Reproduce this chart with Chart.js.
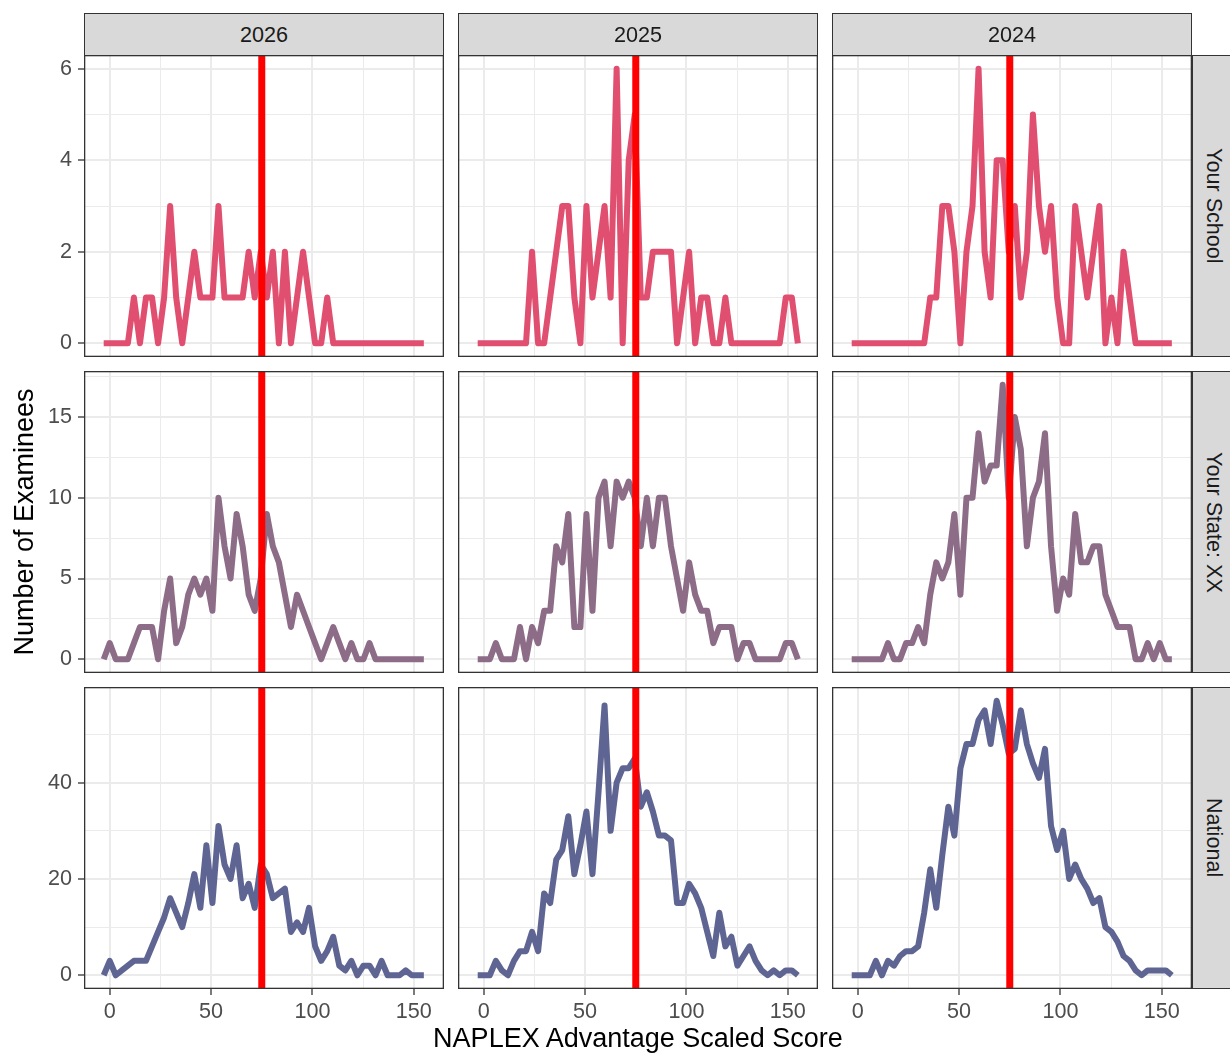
<!DOCTYPE html>
<html>
<head>
<meta charset="utf-8">
<script src="https://cdn.jsdelivr.net/npm/chart.js@4.4.1/dist/chart.umd.min.js"></script>
<style>
html, body { margin: 0; padding: 0; background: #fff; overflow: hidden; }
body { width: 1230px; height: 1053px; position: relative; font-family: "Liberation Sans", Arial, sans-serif; }
canvas { position: absolute; }
.strip { position: absolute; box-sizing: border-box; background: #d9d9d9; border: 1.3px solid #333; color: #1a1a1a; font-size: 21.6px; display: flex; align-items: center; justify-content: center; }
.strip.side { writing-mode: vertical-rl; }
#xtitle { position: absolute; left: 338px; width: 600px; top: 1022px; text-align: center; font-size: 27px; line-height: 32px; color: #000; white-space: nowrap; }
</style>
</head>
<body>
<script>
// bin centres of the frequency polygon (score axis)
const binCenters = [-2.98, 0, 2.98, 5.96, 8.94, 11.92, 14.9, 17.88, 20.86, 23.84,
  26.82, 29.8, 32.78, 35.76, 38.74, 41.72, 44.7, 47.68, 50.66, 53.64,
  56.62, 59.6, 62.58, 65.56, 68.54, 71.52, 74.5, 77.48, 80.46, 83.44,
  86.42, 89.4, 92.38, 95.36, 98.34, 101.32, 104.3, 107.28, 110.26, 113.24,
  116.22, 119.2, 122.18, 125.16, 128.14, 131.12, 134.1, 137.08, 140.06, 143.04,
  146.02, 149, 151.98, 154.96];

const years = ['2026', '2025', '2024'];
const groups = ['Your School', 'Your State: XX', 'National'];
const cutScore = 75;
const xTitle = 'NAPLEX Advantage Scaled Score';
const yTitle = 'Number of Examinees';

const school2026 = [0,0,0,0,0,1,0,1,1,0, 1,3,1,0,1,2,1,1,1,3, 1,1,1,1,2,1,2,1,2,0, 2,0,1,2,1,0,0,1,0,0, 0,0,0,0,0,0,0,0,0,0, 0,0,0,0];
const school2025 = [0,0,0,0,0,0,0,0,0,2, 0,0,1,2,3,3,1,0,3,1, 2,3,1,6,0,4,5,1,1,2, 2,2,2,0,1,2,0,1,1,0, 0,1,0,0,0,0,0,0,0,0, 0,1,1,0];
const school2024 = [0,0,0,0,0,0,0,0,0,0, 0,0,0,1,1,3,3,2,0,2, 3,6,2,1,4,4,2,3,1,2, 5,3,2,3,1,0,0,3,2,1, 2,3,0,1,0,2,1,0,0,0, 0,0,0,0];

const state2026 = [0,1,0,0,0,1,2,2,2,0, 3,5,1,2,4,5,4,5,3,10, 7,5,9,7,4,3,5,9,7,6, 4,2,4,3,2,1,0,1,2,1, 0,1,0,0,1,0,0,0,0,0, 0,0,0,0];
const state2025 = [0,0,0,1,0,0,0,2,0,2, 1,3,3,7,6,9,2,2,9,3, 10,11,7,11,10,11,10,7,10,7, 10,10,7,5,3,6,4,3,3,1, 2,2,2,0,1,1,0,0,0,0, 0,1,1,0];
const state2024 = [0,0,0,0,0,0,1,0,0,1, 1,2,1,4,6,5,6,9,4,10, 10,14,11,12,12,17,10,15,13,7, 10,11,14,7,3,5,4,9,6,6, 7,7,4,3,2,2,2,0,0,1, 0,1,0,0];

const national2026 = [0,3,0,1,2,3,3,3,6,9, 12,16,13,10,15,21,14,27,15,31, 23,20,27,16,19,14,23,21,16,17, 18,9,11,9,14,6,3,5,8,2, 1,3,0,2,2,0,3,0,0,0, 1,0,0,0];
const national2025 = [0,0,0,3,1,0,3,5,5,9, 5,17,15,24,26,33,21,27,34,21, 38,56,30,40,43,43,45,35,38,34, 29,29,28,15,15,19,17,14,9,4, 13,6,8,2,4,6,3,1,0,1, 0,1,1,0];
const national2024 = [0,0,0,0,3,0,3,2,4,5, 5,6,13,22,14,25,35,29,43,48, 48,53,55,48,57,52,46,47,55,48, 44,41,47,31,26,30,20,23,20,18, 15,16,10,9,7,4,3,1,0,1, 1,1,1,0];

const series = [
  [school2026, school2025, school2024],
  [state2026, state2025, state2024],
  [national2026, national2025, national2024]
];

const xMajor = [0, 50, 100, 150];
const xMinor = [25, 75, 125];
const xLimits = [-12.7, 164.9];
const yMajor = [[0, 2, 4, 6], [0, 5, 10, 15], [0, 20, 40]];
const yMinor = [[1, 3, 5], [2.5, 7.5, 12.5, 17.5], [10, 30, 50]];
const yLimits = [[-0.3, 6.3], [-0.85, 17.85], [-2.85, 59.85]];

const lineColors = ['#e04f6f', '#8d6c88', '#5f6592'];

// layout
const panelX = [84, 458, 832];
const panelY = [55, 371, 687];
const PW = 360, PH = 302;
const FONT = '"Liberation Sans", Arial, sans-serif';
Chart.defaults.font.family = FONT;

const panelBorder = {
  id: 'panelBorder',
  afterDraw(chart) {
    const { ctx, chartArea: a } = chart;
    ctx.save();
    ctx.strokeStyle = '#333333';
    ctx.lineWidth = 1.3;
    ctx.strokeRect(a.left + 0.65, a.top + 0.65, a.right - a.left - 1.3, a.bottom - a.top - 1.3);
    ctx.restore();
  }
};

function noPad(s) {
  s.paddingTop = 0; s.paddingBottom = 0; s.paddingLeft = 0; s.paddingRight = 0;
}

function strip(text, left, top, w, h, side) {
  const d = document.createElement('div');
  d.className = 'strip' + (side ? ' side' : '');
  d.style.left = left + 'px'; d.style.top = top + 'px';
  d.style.width = w + 'px'; d.style.height = h + 'px';
  d.textContent = text;
  document.body.appendChild(d);
}

function makePanel(r, c) {
  const left = c === 0 ? 0 : panelX[c];
  const top = panelY[r];
  const w = panelX[c] + PW - left;
  const h = (r === 2 ? 1053 : panelY[r] + PH) - top;
  const cv = document.createElement('canvas');
  cv.width = w; cv.height = h;
  cv.style.left = left + 'px'; cv.style.top = top + 'px';
  cv.style.width = w + 'px'; cv.style.height = h + 'px';
  document.body.appendChild(cv);

  const vals = series[r][c];
  const showX = r === 2, showY = c === 0;
  const xMaj = v => xMajor.includes(v);
  const yMaj = v => yMajor[r].includes(v);

  new Chart(cv, {
    type: 'line',
    data: {
      datasets: [
        {
          data: [{ x: cutScore, y: yLimits[r][0] }, { x: cutScore, y: yLimits[r][1] }],
          borderColor: '#ff0000', borderWidth: 7, pointRadius: 0, clip: 0, borderCapStyle: 'butt'
        },
        {
          data: binCenters.map((x, i) => ({ x: x, y: vals[i] })),
          borderColor: lineColors[r], borderWidth: 6, pointRadius: 0, clip: 0,
          borderJoinStyle: 'round', borderCapStyle: 'butt', tension: 0
        }
      ]
    },
    options: {
      responsive: false, animation: false, devicePixelRatio: 1,
      layout: { padding: 0, autoPadding: false },
      plugins: { legend: { display: false }, tooltip: { enabled: false } },
      scales: {
        x: {
          type: 'linear', position: 'bottom', min: xLimits[0], max: xLimits[1],
          afterBuildTicks: s => { s.ticks = xMajor.concat(xMinor).sort((a, b) => a - b).map(v => ({ value: v })); },
          afterFit: s => { s.height = showX ? h - PH : 0; noPad(s); },
          ticks: {
            display: showX, autoSkip: false, maxRotation: 0, padding: 4,
            color: '#4d4d4d', font: { size: 21.6 },
            callback: v => xMaj(v) ? String(v) : ''
          },
          grid: {
            color: '#ebebeb', lineWidth: ctx => xMaj(ctx.tick.value) ? 2 : 1,
            drawTicks: showX, tickLength: 6, tickWidth: 1.3,
            tickColor: ctx => xMaj(ctx.tick.value) ? '#333333' : 'rgba(0,0,0,0)'
          },
          border: { display: false }
        },
        y: {
          type: 'linear', position: 'left', min: yLimits[r][0], max: yLimits[r][1],
          afterBuildTicks: s => { s.ticks = yMajor[r].concat(yMinor[r]).sort((a, b) => a - b).map(v => ({ value: v })); },
          afterFit: s => { s.width = showY ? panelX[0] : 0; noPad(s); },
          ticks: {
            display: showY, autoSkip: false, padding: 6,
            color: '#4d4d4d', font: { size: 21.6 },
            callback: v => yMaj(v) ? String(v) : ''
          },
          grid: {
            color: '#ebebeb', lineWidth: ctx => yMaj(ctx.tick.value) ? 2 : 1,
            drawTicks: showY, tickLength: 6, tickWidth: 1.3,
            tickColor: ctx => yMaj(ctx.tick.value) ? '#333333' : 'rgba(0,0,0,0)'
          },
          border: { display: false },
          title: {
            display: showY && r === 1, text: yTitle,
            color: '#000', font: { size: 27 }, padding: { top: 9, bottom: 0 }
          }
        }
      }
    },
    plugins: [panelBorder]
  });
}

for (let r = 0; r < 3; r++) {
  for (let c = 0; c < 3; c++) makePanel(r, c);
}
years.forEach((y, c) => strip(y, panelX[c], 13, PW, 43, false));
groups.forEach((g, r) => strip(g, 1192, panelY[r], 43, PH, true));

const xt = document.createElement('div');
xt.id = 'xtitle';
xt.textContent = xTitle;
document.body.appendChild(xt);
</script>
</body>
</html>
